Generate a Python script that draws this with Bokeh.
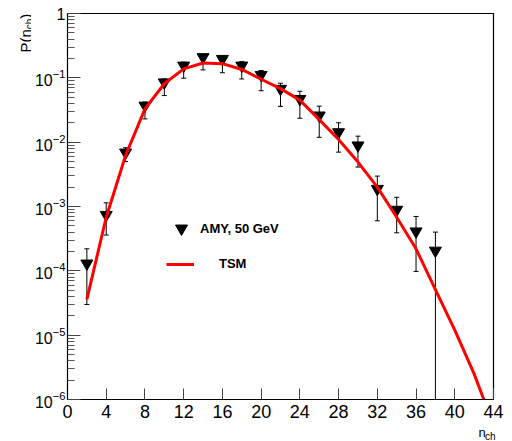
import math
from bokeh.plotting import figure
from bokeh.layouts import row, column
from bokeh.models import (Range1d, FixedTicker, Legend, LegendItem, LogTickFormatter)
from bokeh.core.properties import value
from bokeh.embed import file_html
from bokeh.resources import INLINE

# ---- data ----
n_ch = [2, 4, 6, 8, 10, 12, 14, 16, 18, 20, 22, 24, 26, 28, 30, 32, 34, 36, 38]
amy_p = [1.3e-4, 7.4e-4, 6.9e-3, 0.037, 0.085, 0.155, 0.21, 0.197, 0.155, 0.111,
         0.0675, 0.047, 0.026, 0.0143, 0.0089, 1.88e-3, 8.9e-4, 4.1e-4, 2.06e-4]
amy_hi = [2.2e-4, 1.14e-3, 8.2e-3, 0.042, 0.096, 0.175, 0.23, 0.214, 0.179, 0.13,
          0.0824, 0.0619, 0.0363, 0.020, 0.0124, 2.97e-3, 1.39e-3, 7.0e-4, 4.0e-4]
amy_lo = [3.0e-5, 3.6e-4, 5.0e-3, 0.023, 0.053, 0.0986, 0.133, 0.12, 0.096, 0.063,
          0.036, 0.0235, 0.0119, 0.007, 0.0041, 6.0e-4, 3.9e-4, 9.8e-5, 1e-8]

tsm_n = [2, 4, 6, 8, 10, 12, 14, 16, 18, 20, 22, 24, 26, 28, 30, 32, 34, 36, 38, 40, 42, 43]
tsm_p = [3.6e-5, 6.8e-4, 6.2e-3, 0.033, 0.081, 0.138, 0.17, 0.166, 0.135, 0.095,
         0.068, 0.045, 0.0224, 0.011, 0.0049, 2.0e-3, 6.8e-4, 2.2e-4, 5.1e-5,
         1.2e-5, 2.5e-6, 1.0e-6]

x_ticks = [0, 4, 8, 12, 16, 20, 24, 28, 32, 36, 40, 44]
y_exps = [0, -1, -2, -3, -4, -5, -6]

FONT = "Liberation Sans"
Y_MIN, Y_MAX = 1e-6, 1.0

# ---- layout geometry (pixels) ----
W, H = 512, 441
TITLE_W = 31         # strip holding the rotated y title
AXIS_W = 35          # left border of the main plot (y tick labels)
TOP, BOTTOM_AX = 13, 27
RIGHT = 19
MAIN_H = 426
BOT_H = H - MAIN_H   # strip holding the x title

# ---------------- main plot ----------------
p = figure(width=W - TITLE_W, height=MAIN_H, x_range=Range1d(0, 44),
           y_range=Range1d(Y_MIN, Y_MAX), y_axis_type="log",
           output_backend="svg", toolbar_location=None,
           min_border_left=AXIS_W, min_border_right=RIGHT,
           min_border_top=TOP, min_border_bottom=BOTTOM_AX)
p.xgrid.grid_line_color = None
p.ygrid.grid_line_color = None
p.outline_line_color = "black"
p.outline_line_width = 1.2
p.background_fill_color = "white"
p.border_fill_color = "white"

xa = p.xaxis[0]
xa.ticker = FixedTicker(ticks=x_ticks, minor_ticks=[])
xa.major_tick_in = 11
xa.major_tick_out = 0
xa.minor_tick_in = 0
xa.minor_tick_out = 0
xa.major_label_text_font = FONT
xa.major_label_text_font_size = "18px"
xa.major_label_text_color = "black"
xa.major_label_standoff = 5
xa.axis_line_color = "black"
xa.major_tick_line_color = "#444444"

ya = p.yaxis[0]
ya.ticker = FixedTicker(ticks=[10.0 ** e for e in y_exps],
                        minor_ticks=[m * 10.0 ** e for e in range(-6, 0) for m in range(2, 10)])
ya.formatter = LogTickFormatter(min_exponent=1)
ya.major_tick_in = 13
ya.major_tick_out = 0
ya.minor_tick_in = 7
ya.minor_tick_out = 0
ya.axis_line_color = "black"
ya.major_tick_line_color = "#444444"
ya.minor_tick_line_color = "#555555"
ya.major_label_standoff = 2
ya.major_label_text_font = FONT
ya.major_label_text_font_size = "16px"
ya.major_label_text_color = "black"

# error bars
p.segment(x0=n_ch, y0=amy_lo, x1=n_ch, y1=amy_hi, line_color="black", line_width=1)
p.scatter(x=n_ch, y=amy_hi, marker="dash", size=5, line_color="black", line_width=1)
lo_x = [x for x, lo in zip(n_ch, amy_lo) if lo >= Y_MIN]
lo_y = [lo for lo in amy_lo if lo >= Y_MIN]
p.scatter(x=lo_x, y=lo_y, marker="dash", size=5, line_color="black", line_width=1)

pts = p.scatter(x=n_ch, y=amy_p, marker="inverted_triangle", size=12,
                fill_color="black", line_color="black")
curve = p.line(x=tsm_n, y=tsm_p, line_color="red", line_width=3)


def make_legend(label, rend, loc, gw, gh, standoff):
    return Legend(items=[LegendItem(label=label, renderers=[rend])], location=loc,
                  glyph_width=gw, glyph_height=gh, label_standoff=standoff,
                  padding=0, margin=0, spacing=0,
                  label_text_font=FONT, label_text_font_size="13px",
                  label_text_font_style="bold", label_text_color="black",
                  border_line_color=None, background_fill_alpha=0)


p.add_layout(make_legend("AMY, 50 GeV", pts, (99, 156), 30, 30, 4))
p.add_layout(make_legend("TSM", curve, (99, 128), 28, 14, 25))

# ---------------- left strip: rotated y title P(n_ch) ----------------
yl = figure(width=TITLE_W, height=MAIN_H, x_range=Range1d(0, TITLE_W),
            y_range=p.y_range, y_axis_type="log",
            x_axis_location=None, y_axis_location=None,
            output_backend="svg", toolbar_location=None,
            min_border_left=0, min_border_right=0,
            min_border_top=TOP, min_border_bottom=BOTTOM_AX)
yl.xgrid.grid_line_color = None
yl.ygrid.grid_line_color = None
yl.outline_line_color = None
yl.text(x=[25, 28.5, 25], y=[Y_MAX] * 3, text=["P(n", "ch", ")"],
        y_offset=[39, 15.7, 5.3], angle=math.pi / 2,
        text_align="left", text_baseline="alphabetic",
        text_font=value(FONT), text_font_size=["15px", "10px", "15px"],
        text_color="black")

# ---------------- bottom strip: x title n_ch ----------------
xl = figure(width=W, height=BOT_H, x_range=Range1d(0, W), y_range=Range1d(0, BOT_H),
            x_axis_location=None, y_axis_location=None,
            output_backend="svg", toolbar_location=None,
            min_border_left=0, min_border_right=0, min_border_top=0, min_border_bottom=0)
xl.xgrid.grid_line_color = None
xl.ygrid.grid_line_color = None
xl.outline_line_color = None
xl.text(x=[478, 484.5], y=[9, 5], text=["n", "ch"],
        text_align="left", text_baseline="alphabetic",
        text_font=value(FONT), text_font_size=["13px", "10px"], text_color="black")

layout = column(row(yl, p, spacing=0), xl, spacing=0)

open("out.html", "w").write(file_html(layout, INLINE))
